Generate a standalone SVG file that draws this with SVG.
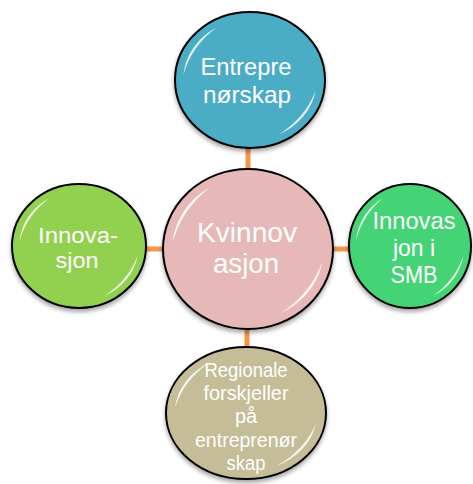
<svg xmlns="http://www.w3.org/2000/svg" xmlns:xlink="http://www.w3.org/1999/xlink" width="473" height="484" viewBox="0 0 473 484">
<style>
.c{stroke:#000;stroke-width:2}
.t{font-family:"Liberation Sans","Open Sans",sans-serif;fill:#fff;text-anchor:middle}
.ln{stroke:#f79646;stroke-width:5;fill:none}
.g{fill:#fff;opacity:0.85}
</style>
<defs>
<filter id="sh" x="-20%" y="-20%" width="140%" height="150%">
<feGaussianBlur in="SourceAlpha" stdDeviation="2"/>
<feOffset dy="3" result="b"/>
<feComponentTransfer><feFuncA type="linear" slope="0.35"/></feComponentTransfer>
<feMerge><feMergeNode/><feMergeNode in="SourceGraphic"/></feMerge>
</filter>
<g id="gloss">
<path class="g" d="M-0.887,-0.078 A0.89,0.89 0 0 1 -0.445,-0.771 A1.3,1.3 0 0 0 -0.887,-0.078Z"/>
<path class="g" d="M0.876,0.155 A0.89,0.89 0 0 1 0.376,0.807 A1.3,1.3 0 0 0 0.876,0.155Z"/>
</g>
</defs>
<g id="connectors">
<line class="ln" x1="248" y1="145" x2="248" y2="172"/>
<line class="ln" x1="140" y1="249" x2="166" y2="249"/>
<line class="ln" x1="330" y1="249" x2="352" y2="249"/>
<line class="ln" x1="247" y1="326" x2="247" y2="350"/>
</g>
<g id="node-entreprenorskap">
<ellipse class="c" cx="250" cy="80" rx="75" ry="68" fill="#4bacc6" filter="url(#sh)"/>
<use xlink:href="#gloss" transform="translate(250,80) scale(75,68)"/>
<text class="t" font-size="24" x="246" y="75" textLength="91" lengthAdjust="spacingAndGlyphs">Entrepre</text>
<text class="t" font-size="24" x="247" y="103" textLength="88" lengthAdjust="spacingAndGlyphs">nørskap</text>
</g>
<g id="node-kvinnovasjon">
<ellipse class="c" cx="248" cy="249" rx="85" ry="80" fill="#e6b9b8" filter="url(#sh)"/>
<use xlink:href="#gloss" transform="translate(248,249) scale(85,80)"/>
<text class="t" font-size="27" x="247" y="242" textLength="100" lengthAdjust="spacingAndGlyphs">Kvinnov</text>
<text class="t" font-size="27" x="246" y="273" textLength="66" lengthAdjust="spacingAndGlyphs">asjon</text>
</g>
<g id="node-innovasjon">
<ellipse class="c" cx="79" cy="246" rx="67" ry="62" fill="#92d050" filter="url(#sh)"/>
<use xlink:href="#gloss" transform="translate(79,246) scale(67,62)"/>
<text class="t" font-size="22" x="78" y="243" textLength="80" lengthAdjust="spacingAndGlyphs">Innova-</text>
<text class="t" font-size="22" x="77" y="268" textLength="43" lengthAdjust="spacingAndGlyphs">sjon</text>
</g>
<g id="node-innovasjon-smb">
<ellipse class="c" cx="410" cy="246" rx="61" ry="62" fill="#45d475" filter="url(#sh)"/>
<use xlink:href="#gloss" transform="translate(410,246) scale(61,62)"/>
<text class="t" font-size="24" x="414" y="229" textLength="83" lengthAdjust="spacingAndGlyphs">Innovas</text>
<text class="t" font-size="24" x="414" y="256" textLength="42" lengthAdjust="spacingAndGlyphs">jon i</text>
<text class="t" font-size="24" x="414" y="283" textLength="47" lengthAdjust="spacingAndGlyphs">SMB</text>
</g>
<g id="node-regionale">
<ellipse class="c" cx="246" cy="413" rx="80" ry="66" fill="#c4bd97" filter="url(#sh)"/>
<use xlink:href="#gloss" transform="translate(246,413) scale(80,66)"/>
<text class="t" font-size="20" x="246" y="377" textLength="83" lengthAdjust="spacingAndGlyphs">Regionale</text>
<text class="t" font-size="20" x="246" y="400" textLength="85" lengthAdjust="spacingAndGlyphs">forskjeller</text>
<text class="t" font-size="20" x="246" y="423">på</text>
<text class="t" font-size="20" x="246" y="447" textLength="102" lengthAdjust="spacingAndGlyphs">entreprenør</text>
<text class="t" font-size="20" x="246" y="470" textLength="39" lengthAdjust="spacingAndGlyphs">skap</text>
</g>
</svg>
